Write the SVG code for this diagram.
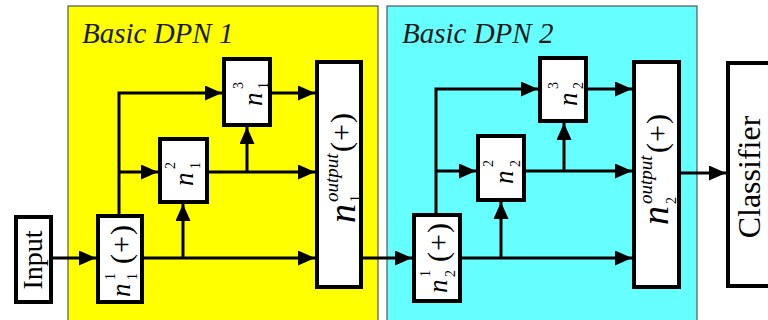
<svg xmlns="http://www.w3.org/2000/svg" width="768" height="320" viewBox="0 0 768 320">
<style>
.panel{stroke:#555;stroke-width:1.2}
.box{fill:#fff;stroke:#000;stroke-width:4}
.c{fill:none;stroke:#000;stroke-width:3}
text{font-family:"Liberation Serif","Times New Roman",serif;fill:#000}
.it{font-style:italic}
.title{font-style:italic;font-size:29px;fill:#1a1a1a}
.n{font-style:italic;font-size:27px}
.nb{font-style:italic;font-size:38px}
.s{font-size:14px}
.so{font-style:italic;font-size:19px}
.p{font-size:30px;letter-spacing:1px}
</style>
<defs>
<marker id="ah" markerUnits="userSpaceOnUse" markerWidth="17" markerHeight="15" refX="17" refY="7.5" orient="auto">
<path d="M0,0 L17,7.5 L0,15 Z" fill="#000"/>
</marker>
</defs>
<rect id="dpn1" class="panel" x="68" y="6" width="310" height="320" fill="#ffff00"/>
<rect id="dpn2" class="panel" x="387" y="6" width="310" height="320" fill="#66ffff"/>
<text class="title" x="82" y="43">Basic DPN 1</text>
<text class="title" x="402" y="43">Basic DPN 2</text>
<g id="connectors" class="c" marker-end="url(#ah)">
<path d="M53,258 H96"/>
<path d="M144,258 H315"/>
<path d="M183,258 V204"/>
<path d="M119,214 V93 H222"/>
<path d="M119,172 H158"/>
<path d="M209,172 H315"/>
<path d="M247,172 V127"/>
<path d="M272,93 H315"/>
<path d="M363,258 H412"/>
<path d="M462,258 H632"/>
<path d="M501,258 V202"/>
<path d="M436,213 V89 H538"/>
<path d="M436,171 H476"/>
<path d="M526,171 H632"/>
<path d="M564,171 V123"/>
<path d="M588,89 H632"/>
<path d="M679,173 H726"/>
</g>
<g id="input">
<rect class="box" x="16" y="217" width="35" height="85"/>
<text transform="translate(42,260) rotate(-90)" text-anchor="middle" font-size="28">Input</text>
</g>
<g id="n1_1">
<rect class="box" x="98" y="216" width="44" height="86"/>
<g transform="translate(130,297) rotate(-90)">
<text class="n" x="0" y="0">n</text>
<text class="s" x="17" y="-15">1</text>
<text class="s" x="17" y="7">1</text>
<text class="p" x="33" y="1">(+)</text>
</g>
</g>
<g id="n1_2">
<rect class="box" x="160" y="139" width="47" height="63"/>
<g transform="translate(193,186) rotate(-90)">
<text class="n" x="0" y="0">n</text>
<text class="s" x="17" y="-18">2</text>
<text class="s" x="17" y="7">1</text>
</g>
</g>
<g id="n1_3">
<rect class="box" x="224" y="59" width="46" height="66"/>
<g transform="translate(262,106) rotate(-90)">
<text class="n" x="0" y="0">n</text>
<text class="s" x="17" y="-19">3</text>
<text class="s" x="17" y="6">1</text>
</g>
</g>
<g id="n1_out">
<rect class="box" x="317" y="62" width="44" height="225"/>
<g transform="translate(355,223) rotate(-90)">
<text class="nb" x="0" y="0">n</text>
<text class="so" x="21" y="-17">output</text>
<text class="s" x="21" y="5">1</text>
<text class="p" x="71" y="-4">(+)</text>
</g>
</g>
<g id="n2_1">
<rect class="box" x="414" y="215" width="46" height="86"/>
<g transform="translate(447,293) rotate(-90)">
<text class="n" x="0" y="0">n</text>
<text class="s" x="16" y="-17">1</text>
<text class="s" x="16" y="8">2</text>
<text class="p" x="31" y="1">(+)</text>
</g>
</g>
<g id="n2_2">
<rect class="box" x="478" y="136" width="46" height="64"/>
<g transform="translate(513,184) rotate(-90)">
<text class="n" x="0" y="0">n</text>
<text class="s" x="17" y="-20">2</text>
<text class="s" x="17" y="7">2</text>
</g>
</g>
<g id="n2_3">
<rect class="box" x="540" y="58" width="46" height="63"/>
<g transform="translate(577,106) rotate(-90)">
<text class="n" x="0" y="0">n</text>
<text class="s" x="17" y="-19">3</text>
<text class="s" x="17" y="6">2</text>
</g>
</g>
<g id="n2_out">
<rect class="box" x="634" y="62" width="45" height="225"/>
<g transform="translate(668,225) rotate(-90)">
<text class="nb" x="0" y="0">n</text>
<text class="so" x="21" y="-16">output</text>
<text class="s" x="21" y="8">2</text>
<text class="p" x="72" y="-1">(+)</text>
</g>
</g>
<g id="classifier">
<rect class="box" x="728" y="63" width="70" height="223"/>
<text transform="translate(760,177) rotate(-90)" text-anchor="middle" font-size="32">Classifier</text>
</g>
</svg>
